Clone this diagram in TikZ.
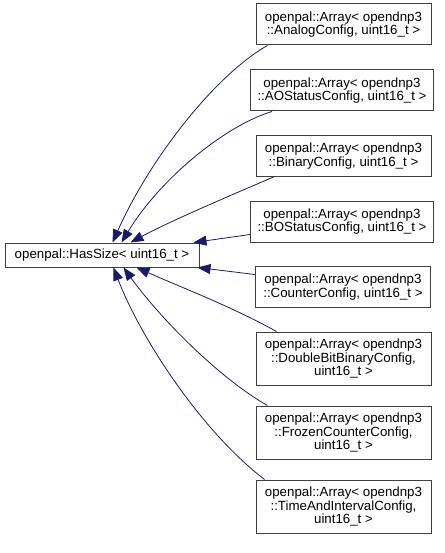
\documentclass[tikz,border=0pt]{standalone}
\usepackage{fontspec}
\setmainfont{Liberation Sans}
\usetikzlibrary{arrows.meta}
\definecolor{edgeblue}{RGB}{25,25,112}
\definecolor{boxline}{RGB}{64,64,64}
\begin{document}
\begin{tikzpicture}[x=1pt,y=-1pt,
  cls/.style={draw=boxline,line width=1pt,fill=white,align=center,
    inner xsep=7pt,inner ysep=0pt,minimum width=175pt,
    font=\fontsize{13.3}{13.8}\selectfont},
  twoline/.style={cls,minimum height=41pt},
  threeline/.style={cls,minimum height=53pt},
  inherit/.style={draw=edgeblue,line width=0.8pt,-{Triangle[length=13pt,width=10pt]}}]
\useasboundingbox (0,0) rectangle (444,553);
% base class:
\node[cls,minimum width=194pt,minimum height=24pt] (hassize) at (102,255) {openpal::HasSize< uint16\_t >};
% derived classes:
\node[twoline] (analog) at (343.5,24.5) {openpal::Array< opendnp3\\::AnalogConfig, uint16\_t >};
\node[twoline] (aostatus) at (342,90.5) {openpal::Array< opendnp3\\::AOStatusConfig, uint16\_t >};
\node[twoline] (binary) at (343.5,156) {openpal::Array< opendnp3\\::BinaryConfig, uint16\_t >};
\node[twoline] (bostatus) at (342,221.5) {openpal::Array< opendnp3\\::BOStatusConfig, uint16\_t >};
\node[twoline] (counter) at (343,287) {openpal::Array< opendnp3\\::CounterConfig, uint16\_t >};
\node[threeline] (doublebit) at (343.5,358.5) {openpal::Array< opendnp3\\::DoubleBitBinaryConfig,\\uint16\_t >};
\node[threeline] (frozen) at (343.5,432.5) {openpal::Array< opendnp3\\::FrozenCounterConfig,\\uint16\_t >};
\node[threeline] (timeinterval) at (343.5,506.5) {openpal::Array< opendnp3\\::TimeAndIntervalConfig,\\uint16\_t >};
% inheritance edges:
\draw[inherit] ([xshift=12pt]analog.south west) .. controls +(-53,30) and +(37,-83) .. ([xshift=108pt]hassize.north west);
\draw[inherit] ([xshift=22pt]aostatus.south west) .. controls +(-47,14) and +(38,-63) .. ([xshift=117pt]hassize.north west);
\draw[inherit] ([xshift=18pt]binary.south west) .. controls +(-49,21) and +(39,-21) .. ([xshift=126pt]hassize.north west);
\draw[inherit] ([yshift=8pt]bostatus.south west) -- ([xshift=189pt]hassize.north west);
\draw[inherit] ([yshift=12.5pt]counter.west) -- ([xshift=193pt]hassize.south west);
\draw[inherit] ([xshift=21pt]doublebit.north west) .. controls +(-45,-25) and +(45,20) .. ([xshift=132pt]hassize.south west);
\draw[inherit] ([xshift=12pt]frozen.north west) .. controls +(-48,-27) and +(36,50) .. ([xshift=119pt]hassize.south west);
\draw[inherit] ([xshift=9pt]timeinterval.north west) .. controls +(-65,-50) and +(26,68) .. ([xshift=109pt]hassize.south west);
\end{tikzpicture}
\end{document}
